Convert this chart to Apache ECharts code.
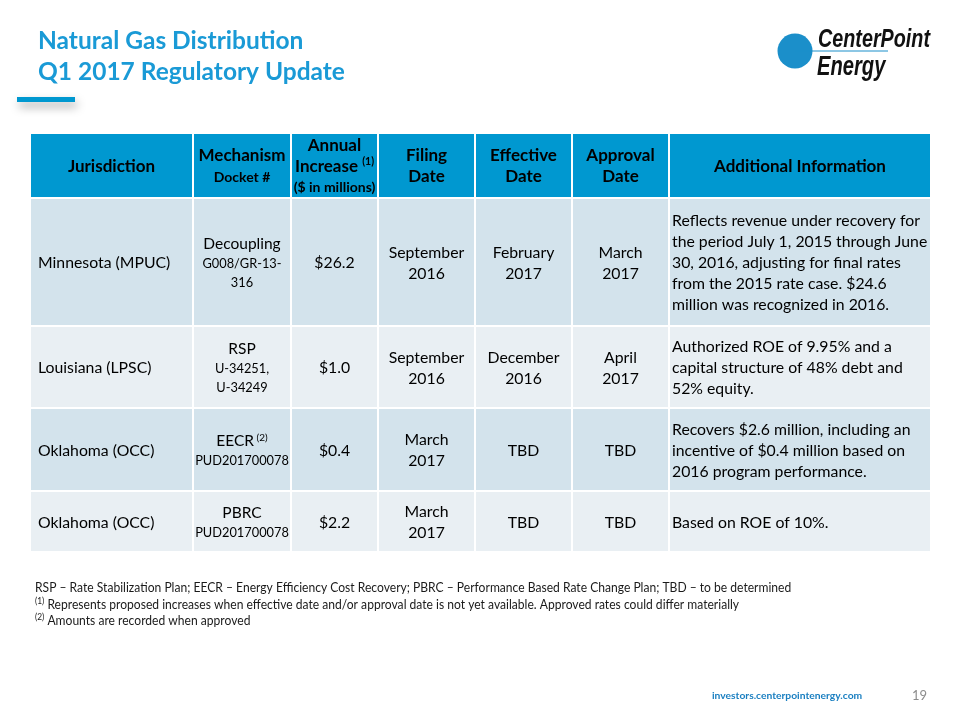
<!DOCTYPE html>
<html>
<head>
<meta charset="utf-8">
<script src="https://cdn.jsdelivr.net/npm/echarts@6/dist/echarts.min.js"></script>
<style>html,body{margin:0;padding:0;background:#fff}#chart{width:960px;height:720px}</style>
</head>
<body>
<div id="chart"></div>
<script>
// ---------- data ----------
const headerLines = [
  ['{h|Jurisdiction}'],
  ['{h|Mechanism}', '{hs|Docket #}'],
  ['{h|Annual}', '{h|Increase }{sup|(1)}', '{hs|($ in millions)}'],
  ['{h|Filing}', '{h|Date}'],
  ['{h|Effective}', '{h|Date}'],
  ['{h|Approval}', '{h|Date}'],
  ['{h|Additional Information}']
];
const jurisdictions = ['Minnesota (MPUC)', 'Louisiana (LPSC)', 'Oklahoma (OCC)', 'Oklahoma (OCC)'];
const mechanisms = ['Decoupling', 'RSP', 'EECR', 'PBRC'];
const mechanismNotes = ['', '', '(2)', ''];
const dockets = [['G008/GR-13-', '316'], ['U-34251,', 'U-34249'], ['PUD201700078'], ['PUD201700078']];
const annualIncrease = [26.2, 1.0, 0.4, 2.2];
const filingDates = [['September', '2016'], ['September', '2016'], ['March', '2017'], ['March', '2017']];
const effectiveDates = [['February', '2017'], ['December', '2016'], ['TBD'], ['TBD']];
const approvalDates = [['March', '2017'], ['April', '2017'], ['TBD'], ['TBD']];
const additionalInfo = [
  ['Reflects revenue under recovery for', 'the period July 1, 2015 through June', '30, 2016, adjusting for final rates', 'from the 2015 rate case. $24.6', 'million was recognized in 2016.'],
  ['Authorized ROE of 9.95% and a', 'capital structure of 48% debt and', '52% equity.'],
  ['Recovers $2.6 million, including an', 'incentive of $0.4 million based on', '2016 program performance.'],
  ['Based on ROE of 10%.']
];
const footnotes = [
  '{t|RSP \u2013 Rate Stabilization Plan; EECR \u2013 Energy Efficiency Cost Recovery; PBRC \u2013 Performance Based Rate Change Plan; TBD \u2013 to be determined}',
  '{s|(1)}{t| Represents proposed increases when effective date and/or approval date is not yet available. Approved rates could differ materially}',
  '{s|(2)}{t| Amounts are recorded when approved}'
];

// ---------- layout ----------
const colEdges = [30, 193, 291, 378, 475, 572, 669, 931];
const rowEdges = [133, 198, 326, 408, 491, 552];
const FONT = 'Lato, "Noto Sans", sans-serif';
const BLUE = '#0098d0';
const rowFill = ['#d3e3ec', '#e9eff3'];

function cellText(c, r) {
  if (r === 0) return headerLines[c].join('\n');
  const i = r - 1;
  switch (c) {
    case 0: return '{b|' + jurisdictions[i] + '}';
    case 1: return '{m|' + mechanisms[i] + '}' + (mechanismNotes[i] ? '{msup| ' + mechanismNotes[i] + '}' : '') + '\n' +
                   dockets[i].map(s => '{d|' + s + '}').join('\n');
    case 2: return '{b|$' + annualIncrease[i].toFixed(1) + '}';
    case 3: return filingDates[i].map(s => '{b|' + s + '}').join('\n');
    case 4: return effectiveDates[i].map(s => '{b|' + s + '}').join('\n');
    case 5: return approvalDates[i].map(s => '{b|' + s + '}').join('\n');
    case 6: return additionalInfo[i].map(s => '{b|' + s + '}').join('\n');
  }
}

const rich = {
  h: {fontFamily: FONT, fontWeight: 'bold', fontSize: 17, color: '#fff', lineHeight: 21},
  hs: {fontFamily: FONT, fontWeight: 'bold', fontSize: 14, color: '#fff', lineHeight: 21},
  sup: {fontFamily: FONT, fontWeight: 'bold', fontSize: 10.5, color: '#fff', lineHeight: 21, verticalAlign: 'top', padding: [0, 0, 6, 0]},
  b: {fontFamily: FONT, fontSize: 15.8, color: '#1a1a1a', lineHeight: 21},
  m: {fontFamily: FONT, fontSize: 15.5, color: '#1a1a1a', lineHeight: 20},
  msup: {fontFamily: FONT, fontSize: 10, color: '#1a1a1a', lineHeight: 20, padding: [0, 0, 6, 0]},
  d: {fontFamily: FONT, fontSize: 12.8, color: '#1a1a1a', lineHeight: 19}
};

const cells = [];
for (let r = 0; r < rowEdges.length - 1; r++)
  for (let c = 0; c < colEdges.length - 1; c++) cells.push([c, r]);

const chart = echarts.init(document.getElementById('chart'), null, {renderer: 'canvas'});
chart.setOption({
  backgroundColor: '#fff',
  animation: false,
  title: {
    text: 'Natural Gas Distribution\nQ1 2017 Regulatory Update',
    left: 38, top: 26, padding: 0,
    textStyle: {fontFamily: FONT, fontWeight: 'bold', fontSize: 24.5, color: '#1a9ad6', lineHeight: 31}
  },
  grid: {left: 0, right: 0, top: 0, bottom: 0},
  xAxis: {type: 'value', min: 0, max: 960, show: false},
  yAxis: {type: 'value', min: 0, max: 720, inverse: true, show: false},
  series: [{
    type: 'custom',
    coordinateSystem: 'cartesian2d',
    data: cells,
    renderItem: function (params, api) {
      const c = api.value(0), r = api.value(1);
      const p0 = api.coord([colEdges[c], rowEdges[r]]);
      const p1 = api.coord([colEdges[c + 1], rowEdges[r + 1]]);
      const fill = r === 0 ? BLUE : rowFill[(r - 1) % 2];
      let tx = (p0[0] + p1[0]) / 2, align = 'center';
      if (r > 0 && c === 0) { tx = p0[0] + 8; align = 'left'; }
      if (r > 0 && c === 6) { tx = p0[0] + 3; align = 'left'; }
      return {
        type: 'group',
        children: [
          {type: 'rect', shape: {x: p0[0] + 1, y: p0[1] + 1, width: p1[0] - p0[0] - 2, height: p1[1] - p0[1] - 2}, style: {fill: fill}},
          {type: 'text', style: {text: cellText(c, r), x: tx, y: (p0[1] + p1[1]) / 2 + 1, align: align, verticalAlign: 'middle', rich: rich}}
        ]
      };
    }
  }],
  graphic: [
    {type: 'rect', shape: {x: 17, y: 97, width: 58, height: 5}, style: {fill: BLUE, shadowBlur: 10, shadowColor: 'rgba(0,0,0,0.35)', shadowOffsetY: 5, shadowOffsetX: 2}},
    // logo
    {type: 'circle', shape: {cx: 795, cy: 51, r: 17.5}, style: {fill: '#1b8fca'}},
    {type: 'line', shape: {x1: 795, y1: 51, x2: 888, y2: 51}, style: {stroke: '#1b8fca', lineWidth: 1}},
    {type: 'text', x: 818, y: 27, scaleX: 0.76, style: {text: 'CenterPoint', fontFamily: '"Liberation Sans", sans-serif', fontWeight: 'bold', fontStyle: 'italic', fontSize: 26, fill: '#111'}},
    {type: 'text', x: 925, y: 38, style: {text: '.', fontFamily: 'sans-serif', fontSize: 8, fill: '#111'}},
    {type: 'text', x: 817, y: 53, scaleX: 0.72, style: {text: 'Energy', fontFamily: '"Liberation Sans", sans-serif', fontWeight: 'bold', fontStyle: 'italic', fontSize: 28, fill: '#111'}},
    // footnotes
    {type: 'text', x: 35, y: 580, scaleX: 0.93, style: {
      text: footnotes.join('\n'),
      rich: {
        t: {fontFamily: FONT, fontSize: 13, fill: '#1a1a1a', lineHeight: 16.5},
        s: {fontFamily: FONT, fontSize: 9, fill: '#1a1a1a', lineHeight: 16.5, verticalAlign: 'top'}
      }
    }},
    // footer
    {type: 'text', x: 712, y: 691, style: {text: 'investors.centerpointenergy.com', fontFamily: FONT, fontWeight: 'bold', fontSize: 10.3, fill: '#1a7fc1'}},
    {type: 'text', x: 912, y: 689, style: {text: '19', fontFamily: FONT, fontSize: 13, fill: '#8c8c8c'}}
  ]
});
</script>
</body>
</html>
